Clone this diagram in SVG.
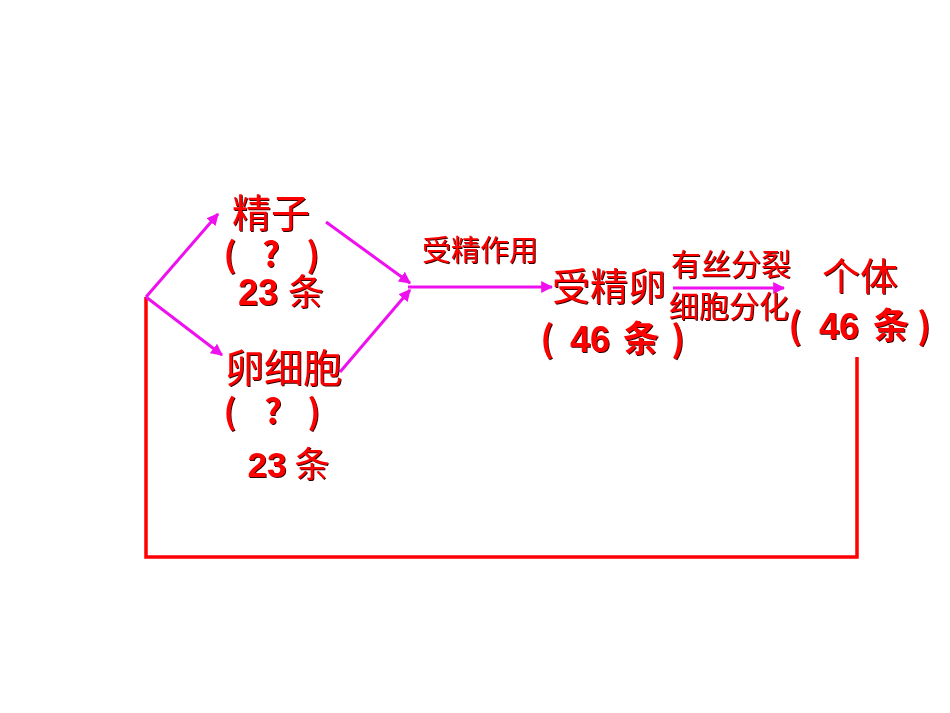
<svg xmlns="http://www.w3.org/2000/svg" width="950" height="713" viewBox="0 0 950 713">
<defs>
<filter id="sh" x="-10%" y="-10%" width="130%" height="140%">
<feOffset in="SourceAlpha" dx="1.2" dy="1.2" result="o"/>
<feFlood flood-color="#300000"/>
<feComposite in2="o" operator="in" result="s"/>
<feMerge><feMergeNode in="s"/><feMergeNode in="SourceGraphic"/></feMerge>
</filter>
<marker id="ah" viewBox="0 0 10 10" refX="9" refY="5" markerWidth="4" markerHeight="4" orient="auto" markerUnits="strokeWidth">
<path d="M0,0 L10,5 L0,10 z" fill="#ee10ee"/>
</marker>
<style>
.t{fill:#ff0000;font-family:"Noto Sans CJK SC","Liberation Sans",sans-serif;font-weight:400;filter:url(#sh)}
.c{text-anchor:middle}
.n{font-family:"Liberation Sans","Noto Sans CJK SC",sans-serif;font-weight:bold}
.p{font-weight:700}
.m{stroke:#ee10ee;stroke-width:3;fill:none}
.r{stroke:#ff0000;stroke-width:3.5;fill:none}
</style>
</defs>
<g id="connectors">
<polyline class="r" points="146,297 146,557 857,557 857,357"/>
<line class="m" x1="146" y1="297" x2="218" y2="214" marker-end="url(#ah)"/>
<line class="m" x1="146" y1="297" x2="222" y2="355" marker-end="url(#ah)"/>
<line class="m" x1="326" y1="222" x2="410" y2="283" marker-end="url(#ah)"/>
<line class="m" x1="340" y1="372" x2="410" y2="290" marker-end="url(#ah)"/>
<line class="m" x1="408" y1="287" x2="552" y2="287" marker-end="url(#ah)"/>
<line class="m" x1="673" y1="288" x2="784" y2="288" marker-end="url(#ah)"/>
</g>
<g id="sperm">
<text class="t" x="232" y="227" font-size="39">精子</text>
<text class="t c p" y="267" font-size="34"><tspan x="230">(</tspan><tspan x="271">?</tspan><tspan x="313">)</tspan></text>
<text class="t c" y="305" font-size="36"><tspan class="n" x="258">23</tspan><tspan x="306">条</tspan></text>
</g>
<g id="egg">
<text class="t" x="225" y="382" font-size="39">卵细胞</text>
<text class="t c p" y="424" font-size="34"><tspan x="230">(</tspan><tspan x="273">?</tspan><tspan x="314">)</tspan></text>
<text class="t c" y="477" font-size="35"><tspan class="n" x="267">23</tspan><tspan x="312">条</tspan></text>
</g>
<g id="fertilization-label">
<text class="t" x="422" y="261" font-size="29">受精作用</text>
</g>
<g id="zygote">
<text class="t" x="552" y="300" font-size="38">受精卵</text>
<text class="t c p" y="352" font-size="36"><tspan x="547">(</tspan><tspan class="n" x="590">46</tspan><tspan x="641">条</tspan><tspan x="678">)</tspan></text>
</g>
<g id="division-label">
<text class="t" x="671" y="275" font-size="30">有丝分裂</text>
<text class="t" x="669" y="317" font-size="30">细胞分化</text>
</g>
<g id="individual">
<text class="t" x="822" y="290" font-size="38">个体</text>
<text class="t c p" y="339" font-size="36"><tspan x="795">(</tspan><tspan class="n" x="839">46</tspan><tspan x="891">条</tspan><tspan x="924">)</tspan></text>
</g>
</svg>
